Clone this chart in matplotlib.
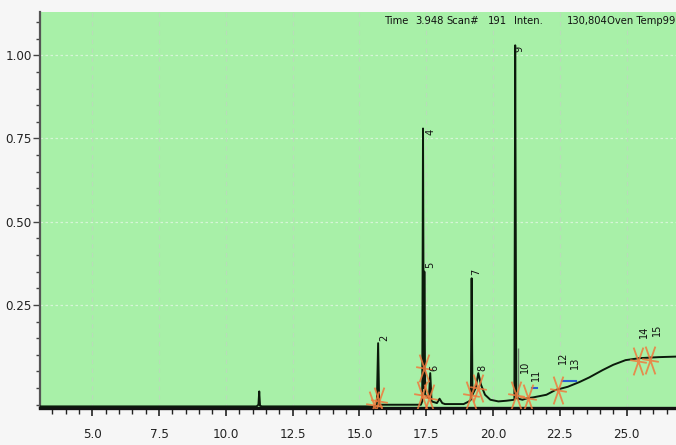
import matplotlib
matplotlib.use("Agg")
import matplotlib.pyplot as plt
from matplotlib.path import Path
from matplotlib.markers import MarkerStyle
from matplotlib.ticker import MultipleLocator
from matplotlib import font_manager as fm

# ---- data ----
trace_t = [3.05, 11.15, 11.22, 11.25, 11.28, 11.35, 15.5, 15.65, 15.70, 15.74, 16.0,
           17.3, 17.35, 17.38, 17.41, 17.43, 17.46, 17.6, 17.65, 17.7, 17.9, 18.0, 18.1,
           18.2, 18.9, 19.1, 19.17, 19.2, 19.23, 19.35, 19.45, 19.55, 19.7, 19.9, 20.2,
           20.5, 20.8, 20.83, 20.87, 21.1, 21.3, 21.5, 22.0, 22.33, 22.8, 23.23, 23.6,
           24.1, 24.5, 24.96, 25.49, 26.2, 27.0]
trace_v = [-0.055, -0.055, -0.05, -0.01, -0.053, -0.055, -0.055, -0.052, 0.135, -0.05, -0.05,
           -0.05, -0.04, 0.78, 0.0, 0.35, -0.02, -0.03, 0.045, -0.04, -0.045, -0.032, -0.045,
           -0.048, -0.048, -0.04, -0.035, 0.33, -0.02, 0.0, 0.045, 0.01, -0.02, -0.035, -0.04,
           -0.038, -0.035, 1.03, -0.03, -0.035, -0.03, -0.028, -0.02, -0.006, 0.004, 0.018, 0.032,
           0.054, 0.07, 0.084, 0.09, 0.093, 0.095]

gray_mark_t = [20.95]
gray_mark_v = [0.12]

label_text = ["2", "4", "5", "6", "7", "8", "9", "10", "11", "12", "13", "14", "15"]
label_t = [15.94, 17.67, 17.63, 17.82, 19.36, 19.62, 20.97, 21.2, 21.6, 22.6, 23.05, 25.64, 26.12]
label_v = [0.15, 0.77, 0.37, 0.06, 0.35, 0.06, 1.02, 0.063, 0.04, 0.09, 0.075, 0.17, 0.175]

marker_t = [15.56, 15.75, 17.33, 17.40, 17.62, 19.17, 19.44, 20.86, 21.32, 22.44, 25.41, 25.86]
marker_v = [-0.05, -0.04, -0.02, 0.06, -0.03, -0.02, 0.0, -0.02, -0.03, -0.005, 0.08, 0.085]

blue_t = [[21.45, 21.65], [22.6, 23.1]]
blue_v = [[-0.0, -0.0], [0.02, 0.02]]

header = ["Time", "3.948", "Scan#", "191", "Inten.", "130,804", "Oven Temp99.48"]
header_x = [0.570, 0.614, 0.661, 0.722, 0.760, 0.839, 0.898]

xticks = [5.0, 7.5, 10.0, 12.5, 15.0, 17.5, 20.0, 22.5, 25.0]
yticks = [0.25, 0.50, 0.75, 1.00]

# ---- drawing ----
cond_path = None
for f in fm.fontManager.ttflist:
    if "DejaVuSansCondensed.ttf" in f.fname:
        cond_path = f.fname
        break
if cond_path is None:
    import glob
    c = glob.glob("/usr/share/fonts/**/DejaVuSansCondensed.ttf", recursive=True)
    cond_path = c[0] if c else None


def fp(size):
    if cond_path:
        return fm.FontProperties(fname=cond_path, size=size)
    return fm.FontProperties(family="DejaVu Sans", size=size)


fig = plt.figure(figsize=(6.76, 4.45), dpi=100)
fig.patch.set_facecolor("#f6f6f6")
ax = fig.add_axes([0.059, 0.083, 0.945, 0.890])
ax.set_facecolor("#a8f0a8")
ax.set_xlim(3.04, 26.95)
ax.set_ylim(-0.06, 1.13)

for y in yticks:
    ax.axhline(y, color="#d6f5d6", lw=0.9, ls=(0, (2, 2)), zorder=1)
for x in xticks:
    ax.axvline(x, color="#b9dcb9", lw=0.8, ls=(0, (4, 4)), zorder=1)

ax.plot(trace_t, trace_v, color="#0b1a0b", lw=1.4, zorder=3)
ax.vlines(gray_mark_t, -0.035, gray_mark_v, color="#6a7d6a", lw=1.0, zorder=2)
for bt, bv in zip(blue_t, blue_v):
    ax.plot(bt, bv, color="#2a5fd0", lw=1.5, zorder=3)

xpath = Path([(-0.35, -1), (0.35, 1), (0.35, -1), (-0.35, 1), (-0.6, 0.1), (0.6, -0.1)],
             [Path.MOVETO, Path.LINETO, Path.MOVETO, Path.LINETO, Path.MOVETO, Path.LINETO])
ax.plot(marker_t, marker_v, ls="none", marker=MarkerStyle(xpath), ms=20,
        mec="#f07a3c", mew=1.3, alpha=0.85, zorder=4)

for s, t, v in zip(label_text, label_t, label_v):
    ax.text(t, v, s, rotation=90, ha="center", va="center", fontproperties=fp(7.8),
            color="#111111", zorder=5)

for s, x in zip(header, header_x):
    fig.text(x, 0.953, s, fontproperties=fp(8.0), color="#111111", va="center", ha="left")

ax.set_xticks(xticks)
ax.set_xticklabels([f"{v:.1f}" for v in xticks], fontproperties=fp(9.5), color="#222222")
ax.set_yticks(yticks)
ax.set_yticklabels([f"{v:.2f}" for v in yticks], fontproperties=fp(9.5), color="#222222")
ax.xaxis.set_minor_locator(MultipleLocator(0.5))
ax.yaxis.set_minor_locator(MultipleLocator(0.05))
ax.tick_params(axis="x", which="major", length=6, width=1.2, color="#222222", pad=8)
ax.tick_params(axis="x", which="minor", length=4, width=1.0, color="#222222")
ax.tick_params(axis="y", which="major", length=5, width=1.0, color="#444444", pad=1)
ax.tick_params(axis="y", which="minor", length=3, width=1.0, color="#444444")

for side in ["top", "right"]:
    ax.spines[side].set_visible(False)
ax.spines["bottom"].set_linewidth(2.4)
ax.spines["bottom"].set_color("#111111")
ax.spines["left"].set_linewidth(1.6)
ax.spines["left"].set_color("#555555")

fig.savefig("out.png", dpi=100, facecolor=fig.get_facecolor())
